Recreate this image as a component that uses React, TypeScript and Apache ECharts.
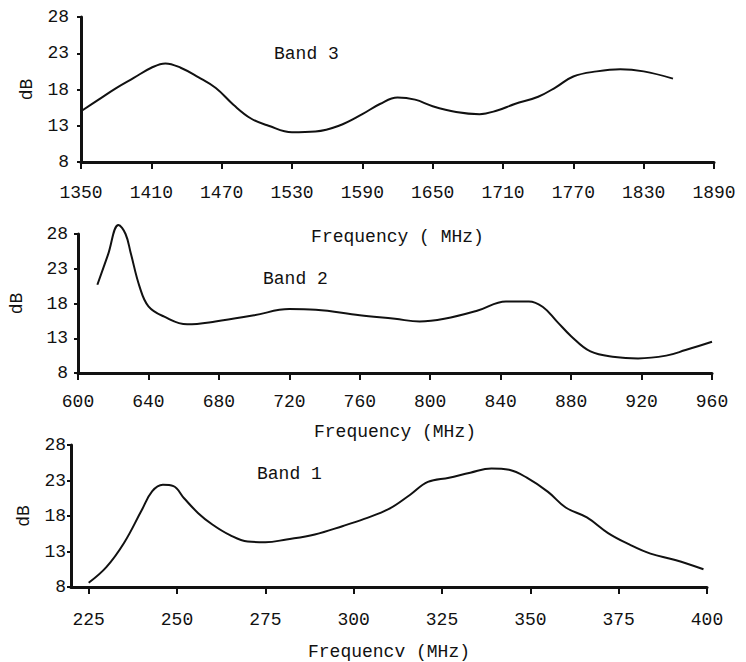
import React, { useEffect, useRef } from 'react';
import * as echarts from 'echarts';

const INK = '#111';
const FONT = '"Liberation Mono", "DejaVu Sans Mono", monospace';

const dbTicks = [8, 13, 18, 23, 28];
const band3Ticks = [1350, 1410, 1470, 1530, 1590, 1650, 1710, 1770, 1830, 1890];
const band2Ticks = [600, 640, 680, 720, 760, 800, 840, 880, 920, 960];
const band1Ticks = [225, 250, 275, 300, 325, 350, 375, 400];

const band3Freq = [1350, 1365, 1380, 1395, 1410, 1422, 1435, 1450, 1465, 1480, 1495, 1510, 1530, 1550, 1570, 1590, 1605, 1620, 1635, 1650, 1670, 1690, 1705, 1720, 1740, 1755, 1770, 1790, 1810, 1830, 1855];
const band3Db = [15.0, 16.6, 18.2, 19.6, 21.0, 21.6, 21.0, 19.7, 18.2, 15.9, 14.0, 13.0, 12.1, 12.2, 13.0, 14.6, 16.0, 16.9, 16.6, 15.7, 14.9, 14.6, 15.1, 16.0, 17.0, 18.3, 19.8, 20.5, 20.8, 20.5, 19.5];

const band2Freq = [611, 617, 623, 627, 630, 635, 640, 649, 662, 678, 700, 720, 735, 760, 780, 794, 808, 827, 843, 856, 864, 872, 880, 891, 905, 918, 934, 945, 960];
const band2Db = [20.7, 25.0, 29.3, 28.0, 25.2, 20.4, 17.6, 16.1, 15.0, 15.4, 16.3, 17.2, 17.1, 16.3, 15.8, 15.4, 15.8, 17.0, 18.3, 18.3, 17.5, 15.4, 13.3, 11.1, 10.3, 10.1, 10.5, 11.3, 12.5];

const band1Freq = [225, 230, 235, 240, 243, 246, 249, 252, 256, 260, 265, 270, 275, 281, 289, 297, 303, 310, 316, 321, 327, 333, 339, 344, 349, 355, 360, 366, 372, 378, 384, 391, 399];
const band1Db = [8.6, 10.8, 14.2, 18.8, 21.5, 22.4, 22.2, 20.5, 18.4, 16.8, 15.3, 14.4, 14.3, 14.7, 15.4, 16.6, 17.6, 19.0, 21.0, 22.8, 23.4, 24.1, 24.7, 24.5, 23.4, 21.4, 19.2, 17.8, 15.6, 14.0, 12.7, 11.8, 10.5];

const textStyle = { color: INK, fontFamily: FONT, fontSize: 18 };

function makeX(gridIndex: number, min: number, max: number, ticks: number[], name: string, nameGap: number, margin: number) {
  return {
    type: 'value', gridIndex, min, max,
    axisLine: { show: true, lineStyle: { color: INK, width: 3 } },
    axisTick: { show: true, customValues: ticks, length: 7, lineStyle: { color: INK, width: 2 } },
    axisLabel: { customValues: ticks, margin, formatter: (v: number) => String(v), ...textStyle },
    splitLine: { show: false },
    name, nameLocation: 'middle', nameGap,
    nameTextStyle: { ...textStyle },
  };
}

function makeY(gridIndex: number, nameGap: number, margin: number) {
  return {
    type: 'value', gridIndex, min: 8, max: 28,
    axisLine: { show: true, lineStyle: { color: INK, width: 3 } },
    axisTick: { show: true, customValues: dbTicks, length: 4, lineStyle: { color: INK, width: 2 } },
    axisLabel: { customValues: dbTicks, margin, formatter: (v: number) => String(v), ...textStyle },
    splitLine: { show: false },
    name: 'dB', nameLocation: 'middle', nameRotate: 90, nameGap,
    nameTextStyle: { ...textStyle },
  };
}

function makeSeries(idx: number, xs: number[], ys: number[]) {
  return {
    type: 'line', xAxisIndex: idx, yAxisIndex: idx,
    data: xs.map((x, i) => [x, ys[i]]),
    smooth: 0.4, showSymbol: false, clip: false,
    lineStyle: { color: INK, width: 2 },
  };
}

export default function App() {
  const ref = useRef<HTMLDivElement>(null);
  useEffect(() => {
    if (!ref.current) return;
    const chart = echarts.init(ref.current, null, { renderer: 'svg' });
    chart.setOption({
      animation: false,
      backgroundColor: '#fff',
      grid: [
        { left: 81, top: 17, width: 633, height: 145 },
        { left: 76, top: 234, width: 636, height: 139 },
        { left: 71, top: 445, width: 636, height: 143 },
      ],
      xAxis: [
        makeX(0, 1350, 1890, band3Ticks, 'Frequency ( MHz)', 66, 22),
        makeX(1, 600, 960, band2Ticks, 'Frequency (MHz)', 50, 20),
        makeX(2, 220, 400, band1Ticks, 'Frequencv (MHz)', 56, 24),
      ],
      yAxis: [makeY(0, 45, 12), makeY(1, 52, 10), makeY(2, 38, 5)],
      series: [
        makeSeries(0, band3Freq, band3Db),
        makeSeries(1, band2Freq, band2Db),
        makeSeries(2, band1Freq, band1Db),
      ],
      graphic: [
        { type: 'text', left: 274, top: 45, style: { text: 'Band 3', fill: INK, font: `18px ${FONT}` } },
        { type: 'text', left: 263, top: 270, style: { text: 'Band 2', fill: INK, font: `18px ${FONT}` } },
        { type: 'text', left: 257, top: 465, style: { text: 'Band 1', fill: INK, font: `18px ${FONT}` } },
      ],
    });
    return () => chart.dispose();
  }, []);
  return <div ref={ref} style={{ position: 'absolute', left: 0, top: 0, width: 746, height: 662 }} />;
}
